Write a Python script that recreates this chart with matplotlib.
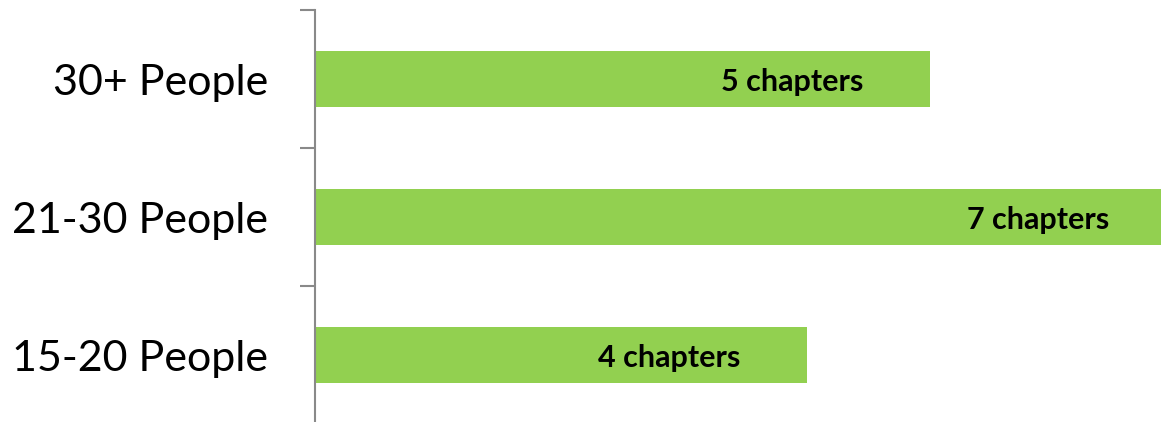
import matplotlib.pyplot as plt

groups = ["30+ People", "21-30 People", "15-20 People"]
chapters = [5, 7, 4]
labels = ["5 chapters", "7 chapters", "4 chapters"]

green = "#92D050"
grey = "#898989"

fig = plt.figure(figsize=(11.61, 4.22), dpi=100)
ax = fig.add_axes([315 / 1161, -2 / 422, 1 - 315 / 1161, 414 / 422])

pos = list(range(len(groups)))
ax.barh(pos, chapters, height=0.4, color=green)

for p, v, t in zip(pos, chapters, labels):
    ax.text(v - 1.12, p + 0.02, t, ha="center", va="center", fontsize=22,
            fontweight="bold", family="Lato", color="black")

ax.set_xlim(0, 6.88)
ax.set_ylim(2.5, -0.5)

# group names on minor ticks, separators on major ticks
ax.set_yticks([-0.5, 0.5, 1.5, 2.5])
ax.set_yticklabels([])
ax.set_yticks(pos, minor=True)
ax.set_yticklabels(groups, minor=True, fontsize=31, family="Lato")
ax.tick_params(axis="y", which="major", length=10.5, width=1.5, color=grey)
ax.tick_params(axis="y", which="minor", length=0, pad=34)
ax.set_xticks([])

for s in ["top", "right", "bottom"]:
    ax.spines[s].set_visible(False)
ax.spines["left"].set_color(grey)
ax.spines["left"].set_linewidth(1.5)

fig.savefig("out.png", dpi=100)
